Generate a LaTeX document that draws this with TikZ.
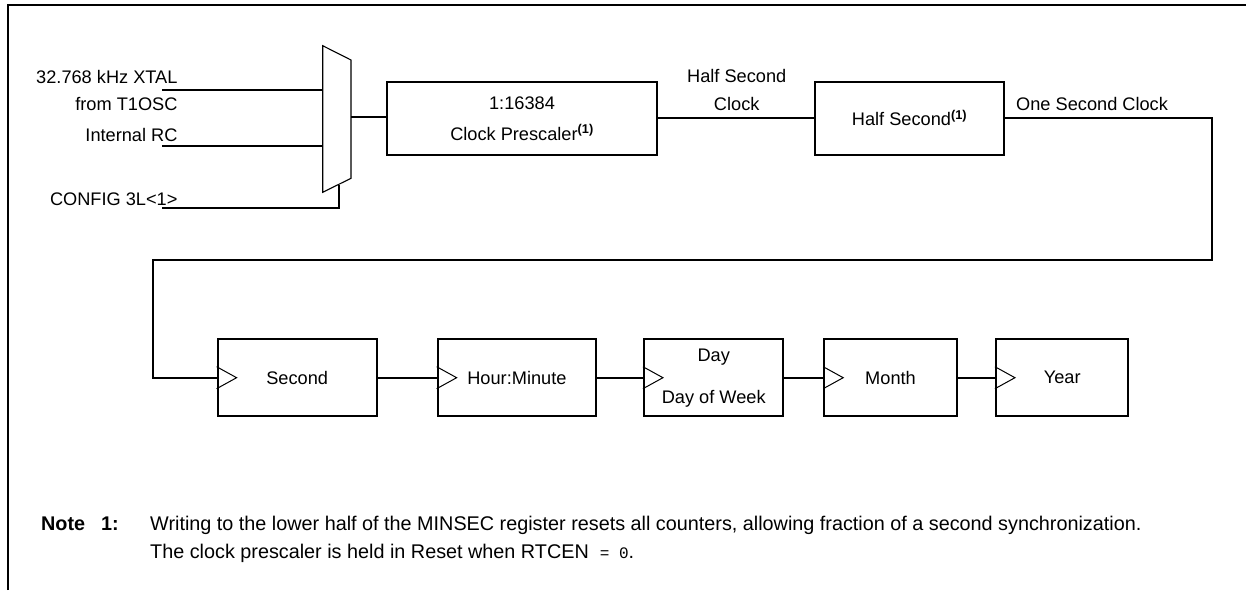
\documentclass[tikz,border=0pt]{standalone}
\usepackage{fontspec}
\setmainfont{Liberation Sans}
\setmonofont{Liberation Mono}
\begin{document}
\begin{tikzpicture}[x=1pt,y=-1pt,
  lbl/.style={font=\fontsize{18.2}{22}\selectfont, inner sep=0pt},
  blk/.style={draw, line width=2.2pt, inner sep=0pt, align=center, font=\fontsize{18.2}{22}\selectfont},
  cnt/.style={blk, minimum height=76.7pt},
  wire/.style={line width=2pt},
  muxline/.style={line width=1.1pt},
  clk/.style={line width=1pt},
  notetxt/.style={font=\fontsize{19.8}{24}\selectfont, inner sep=0pt, anchor=base west},
  notehd/.style={font=\fontsize{19.8}{24}\selectfont\bfseries, inner sep=0pt, anchor=base west}]
\useasboundingbox (0,0) rectangle (1246,590);
% frame
\draw[line width=2.2pt] (8,590) -- (8,5) -- (1246,5);

% multiplexer
\coordinate (m1) at (322.7,45.7);
\coordinate (m2) at (351,60);
\coordinate (m3) at (351,178.3);
\coordinate (m4) at (322.7,192.3);
\draw[muxline, fill=white] (m1) -- (m2) -- (m3) -- (m4) -- cycle;
\coordinate (mout) at (351,117.3);
\coordinate (msel) at (339.3,184.5);
\coordinate (in1) at (322.7,90);
\coordinate (in2) at (322.7,145.7);

% input labels
\node[lbl, anchor=base east] (xtal) at (177.7,83) {32.768 kHz XTAL};
\node[lbl, anchor=base east] (t1osc) at (177.7,110) {from T1OSC};
\node[lbl, anchor=base east] (irc) at (177.7,141.7) {Internal RC};
\node[lbl, anchor=base east] (cfg) at (177.7,205.7) {CONFIG 3L<1>};
\coordinate (w1s) at (162,90);
\coordinate (w2s) at (162,145.7);
\coordinate (w3s) at (162,207.7);
\draw[wire] (w1s) -- (in1);
\draw[wire] (w2s) -- (in2);
\draw[wire] (w3s) -| (msel);

% prescaler
\node[blk, minimum width=270.6pt, minimum height=73.3pt, font=\fontsize{18.2}{31}\selectfont] (pre) at (522,118.3)
  {1:16384\\Clock Prescaler\textsuperscript{\bfseries(1)}};
\draw[wire] (mout) -- (mout -| pre.west);

% half second
\node[blk, minimum width=189pt, minimum height=73pt] (hs) at (909.5,118.3)
  {Half Second\textsuperscript{\bfseries(1)}};
\draw[wire] (pre.east) -- (hs.west);
\node[lbl, anchor=base] (hsc1) at (736.7,82.7) {Half Second};
\node[lbl, anchor=base] (hsc2) at (736.7,110) {Clock};
\node[lbl, anchor=base west] (osc) at (1016,110) {One Second Clock};

% counters
\node[cnt, minimum width=159pt] (sec) at (297.2,377.7) {Second};
\node[cnt, minimum width=158.3pt] (hm) at (516.9,377.7) {Hour:Minute};
\node[cnt, minimum width=139.3pt, font=\fontsize{18.2}{42}\selectfont] (day) at (713.7,377.7) {Day\\Day of Week};
\node[cnt, minimum width=132.4pt] (mon) at (890.5,377.7) {Month};
\node[cnt, minimum width=132.3pt] (yr) at (1062.2,377.7) {Year};

\coordinate (r1) at (1212.3,260);
\coordinate (l1) at (152.7,260);
\draw[wire] (hs.east) -| (r1) -- (l1) |- (sec.west);
\draw[wire] (sec.east) -- (hm.west);
\draw[wire] (hm.east) -- (day.west);
\draw[wire] (day.east) -- (mon.west);
\draw[wire] (mon.east) -- (yr.west);

\foreach \b in {sec,hm,day,mon,yr}
  \draw[clk] (\b.west) ++(0,-11) -- ++(20,11) -- ++(-20,11);

% note
\node[notehd] (notelbl) at (41,530.7) {Note};
\node[notehd] (notenum) at (101,530.7) {1:};
\node[notetxt] (note1) at (150,530.7) {Writing to the lower half of the MINSEC register resets all counters, allowing fraction of a second synchronization.};
\node[notetxt] (note2) at (150,558.3) {The clock prescaler is held in Reset when RTCEN~~{\fontsize{16}{18}\selectfont\ttfamily= 0}.};
\end{tikzpicture}
\end{document}
